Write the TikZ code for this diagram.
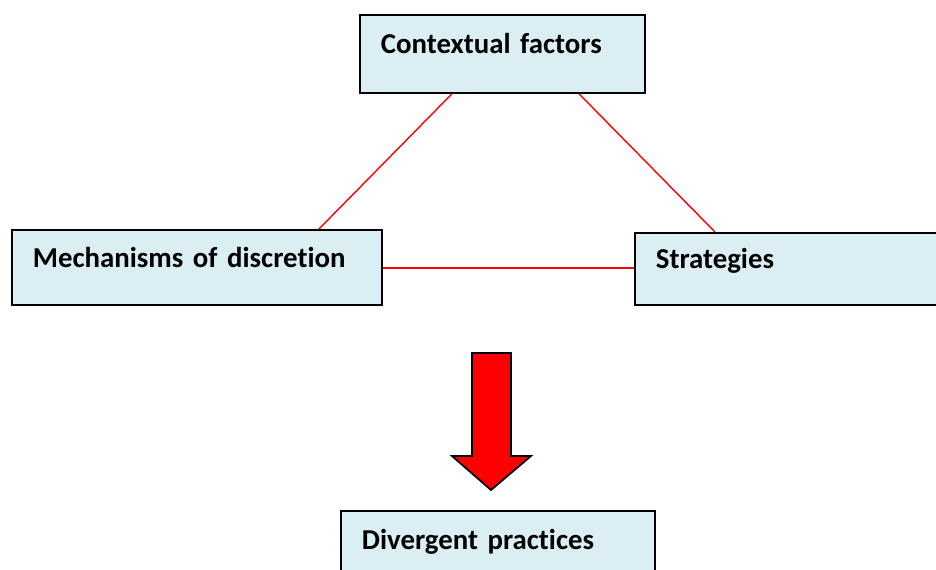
\documentclass[tikz,border=0pt]{standalone}
\usepackage{fontspec}
\setmainfont[RawFeature=-liga, WordSpace=0.6]{Carlito}
\usetikzlibrary{positioning}
\definecolor{boxblue}{RGB}{219,238,244}
\tikzset{
  box/.style={draw=black, line width=1pt, fill=boxblue, align=left, inner xsep=12pt,
    text height=11pt, text depth=11pt, font=\fontsize{16.4}{19}\selectfont\bfseries},
  link/.style={draw=red, line width=0.8pt}
}
\begin{document}
\begin{tikzpicture}[x=0.02cm, y=-0.02cm]
			\useasboundingbox (0,0) rectangle (936,569);
			\clip (0,0) rectangle (936,569);
			\node[box, anchor=north west, text width=4.86cm, minimum height=1.56cm] (ctx) at (359,14) {Contextual factors};
			\node[box, anchor=north west, text width=6.56cm, minimum height=1.5cm] (mech) at (11,229) {Mechanisms of discretion};
			\node[box, anchor=north west, text width=5.5cm, minimum height=1.44cm] (strat) at (634,232) {Strategies};
			\node[box, anchor=north west, text width=5.44cm, minimum height=1.56cm] (div) at (340,510) {Divergent practices};
			\draw[link] ([xshift=1.86cm]ctx.south west) -- ([xshift=6.16cm]mech.north west);
			\draw[link] ([xshift=4.4cm]ctx.south west) -- ([xshift=1.62cm]strat.north west);
			\draw[link] ([yshift=-0.01cm]mech.east) -- ([yshift=-0.01cm]mech.east -| strat.west);
			\draw[black, line width=1pt, fill=red] (472,353) -- (511,353) -- (511,456) -- (531,456) -- (491,490) -- (452,456) -- (472,456) -- cycle;
\end{tikzpicture}
\end{document}
